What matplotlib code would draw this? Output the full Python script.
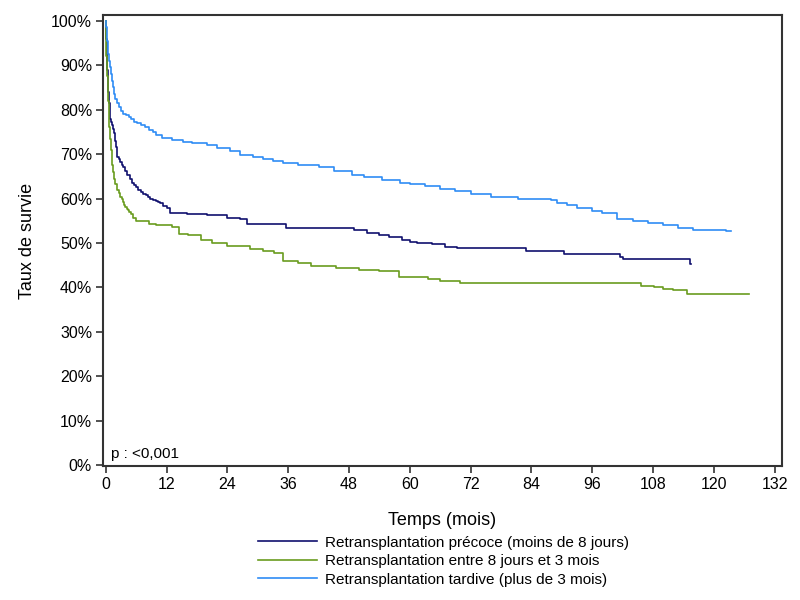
import matplotlib
matplotlib.use("Agg")
import matplotlib.pyplot as plt
from matplotlib.ticker import FuncFormatter

plt.rcParams['font.family'] = ['Liberation Sans', 'DejaVu Sans']

# survival curves (months, % survival)
labels = ["Retransplantation précoce (moins de 8 jours)",
          "Retransplantation entre 8 jours et 3 mois",
          "Retransplantation tardive (plus de 3 mois)"]
colors = ["#10106e", "#6a9c1f", "#2f8cf5"]

t_early = [0, 0.1, 0.2, 0.3, 0.4, 0.5, 0.6, 0.75, 0.9, 1.05, 1.2, 1.4, 1.6,
           1.8, 2.0, 2.15, 2.3, 2.6, 2.9, 3.2, 3.5, 3.85, 4.2, 4.7, 5.2, 5.6,
           6.0, 6.4, 6.9, 7.4, 8.0, 8.4, 8.8, 9.4, 10.0, 10.4, 10.8, 11.4,
           12.0, 12.7, 16, 19.9, 24, 26.5, 27.8, 35.6, 49, 51.6, 53.9, 56,
           58.5, 60, 61.4, 64.4, 67, 69.3, 83, 90.5, 101.6, 102, 115.3, 115.6]
s_early = [100, 96, 92, 89, 86, 84, 81.5, 79.8, 78, 77.2, 76.5, 75.6, 74.7,
           73, 71.5, 70.4, 69.4, 68.8, 68.2, 67.6, 67, 66.1, 65.2, 64.3, 63.4,
           63, 62.5, 62, 61.5, 61.1, 60.7, 60.3, 60, 59.7, 59.4, 59.2, 59,
           58.4, 57.8, 56.8, 56.5, 56.2, 55.7, 55.4, 54.3, 53.4, 53.0, 52.3,
           51.8, 51.3, 50.7, 50.3, 50.0, 49.7, 49.2, 48.8, 48.2, 47.6, 46.9,
           46.3, 45.3, 45.3]

t_mid = [0, 0.05, 0.1, 0.15, 0.2, 0.25, 0.3, 0.4, 0.5, 0.6, 0.7, 0.85, 1.0,
         1.15, 1.3, 1.45, 1.6, 1.9, 2.2, 2.55, 2.9, 3.15, 3.4, 3.65, 3.9, 4.15,
         4.4, 4.65, 4.9, 5.4, 5.9, 8.5, 10, 13, 14.4, 16.2, 18.9, 21, 23.9,
         28.4, 31, 33.3, 35, 38, 40.5, 45.4, 50, 54, 57.8, 63.7, 66, 69.9,
         105.6, 106.2, 108.2, 110, 112, 114.7, 127]
s_mid = [100, 97, 94.5, 92, 90, 88.5, 87.5, 84.5, 82, 79, 76, 73.5, 70.9, 69,
         67.5, 66, 64.5, 63.2, 62, 61.2, 60.4, 59.8, 59.2, 58.6, 58.1, 57.7,
         57.4, 57, 56.6, 55.7, 54.9, 54.3, 54.0, 53.6, 52.1, 51.9, 50.6, 50.0,
         49.4, 48.7, 48.2, 47.7, 46.0, 45.5, 44.8, 44.4, 44.0, 43.6, 42.3,
         42.0, 41.5, 41.0, 40.4, 40.3, 40.0, 39.7, 39.5, 38.6, 38.6]

t_late = [0, 0.1, 0.2, 0.3, 0.4, 0.5, 0.6, 0.8, 1.0, 1.2, 1.4, 1.6, 1.9, 2.2,
          2.6, 3.0, 3.4, 4.0, 4.5, 5.0, 5.5, 6.2, 6.9, 7.7, 8.5, 9.3, 10,
          11.1, 13, 15.3, 17, 19.9, 22, 24.5, 26.5, 29, 31, 33, 35, 38, 42,
          45, 48.6, 51, 54.5, 58, 60, 63, 66, 69, 72, 76, 81.4, 87.8, 89, 91,
          93, 96, 98, 101, 104, 107, 110, 113, 116, 122.5, 123.5]
s_late = [100, 98.5, 97, 95.5, 94, 92.5, 91, 89.5, 88, 86.5, 85, 83.5, 82.5,
          81.5, 80.5, 79.8, 79, 78.7, 78.3, 77.8, 77.3, 76.9, 76.5, 76, 75.5,
          75, 74.4, 73.7, 73.2, 72.8, 72.4, 72, 71.3, 70.8, 69.8, 69.3, 68.8,
          68.4, 68, 67.6, 67.1, 66.3, 65.2, 64.8, 64.1, 63.5, 63.2, 62.9,
          62.2, 61.6, 61.0, 60.4, 59.8, 59.6, 59.0, 58.5, 57.8, 57.2, 56.7,
          55.5, 55.0, 54.4, 54.0, 53.4, 53.0, 52.6, 52.6]

x_ticks = list(range(0, 133, 12))
y_ticks = list(range(0, 101, 10))

fig = plt.figure(figsize=(8, 6), dpi=100)
ax = fig.add_axes([0.129, 0.223, 0.848, 0.752])

curves = [(t_early, s_early), (t_mid, s_mid), (t_late, s_late)]
for (t, s), c, lab in zip(curves, colors, labels):
    ax.plot(t, s, drawstyle='steps-post', color=c, lw=1.2, label=lab)

ax.set_xlim(-0.5, 133.4)
ax.set_ylim(-0.2, 101.3)
ax.set_xticks(x_ticks)
ax.set_yticks(y_ticks)
ax.yaxis.set_major_formatter(FuncFormatter(lambda v, p: f"{v:.0f}%"))
ax.tick_params(direction='out', length=5, width=1.2, color='#333333',
               labelsize=11.5, pad=3)
for sp in ax.spines.values():
    sp.set_linewidth(1.5)
    sp.set_color('#333333')

ax.set_xlabel("Temps (mois)", fontsize=13, labelpad=14)
ax.set_ylabel("Taux de survie", fontsize=13, labelpad=11)
ax.text(0.012, 0.012, "p : <0,001", transform=ax.transAxes, fontsize=11,
        ha='left', va='bottom')

fig.legend(loc='upper center', bbox_to_anchor=(0.554, 0.12), frameon=False,
           fontsize=11, handlelength=3.9, handletextpad=0.5,
           labelspacing=0.3, borderpad=0)

fig.savefig("out.png", dpi=100)
